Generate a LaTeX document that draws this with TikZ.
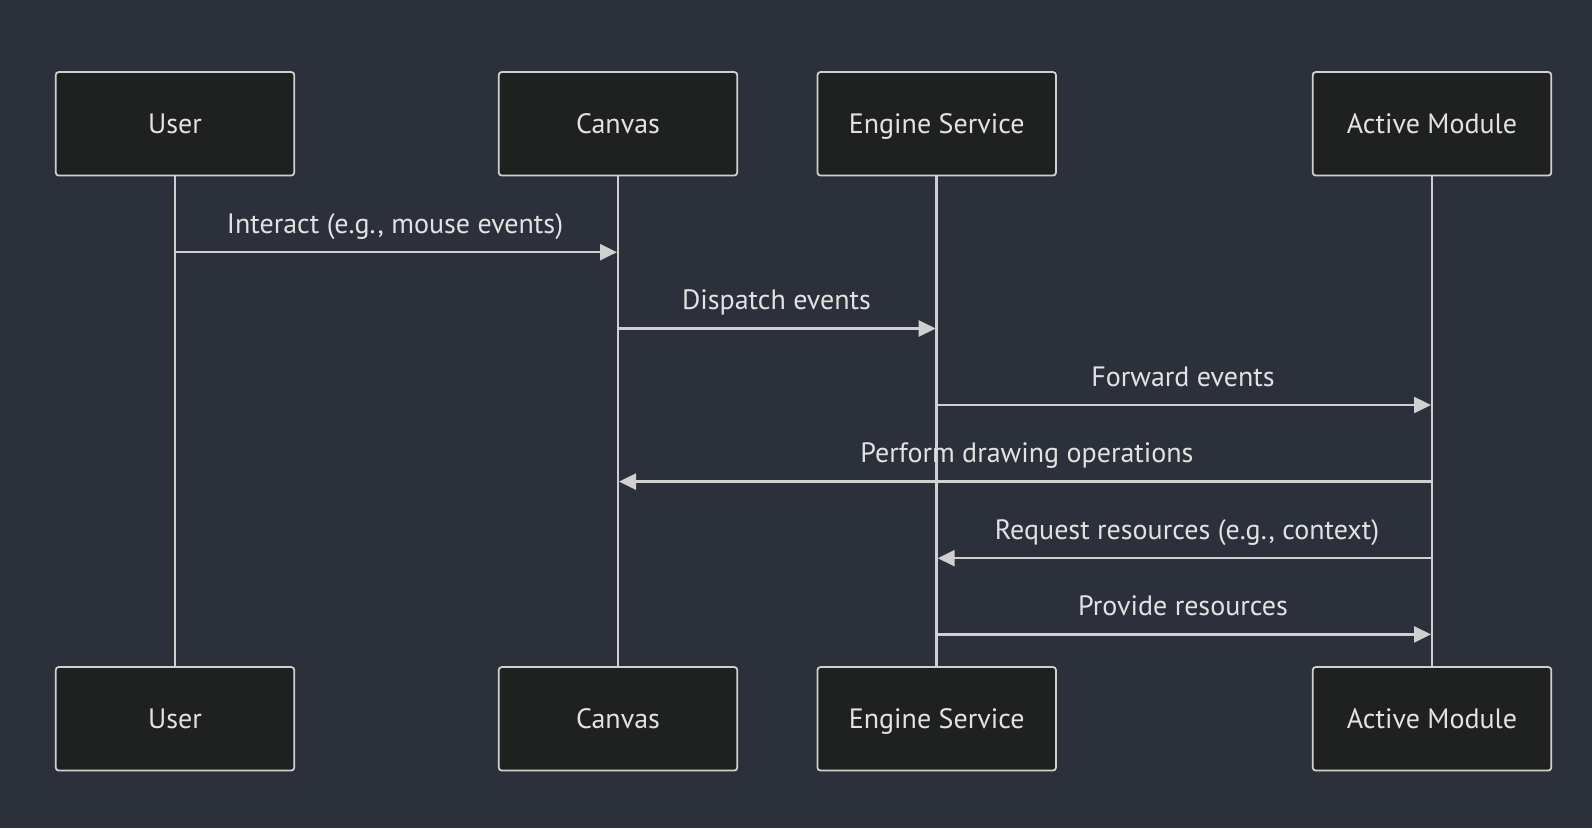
\documentclass[tikz,border=0pt]{standalone}
\usepackage{fontspec}
\setmainfont{PT Sans}
\usetikzlibrary{arrows.meta}
\definecolor{bgc}{HTML}{2C303B}
\definecolor{boxc}{HTML}{1F2020}
\definecolor{linec}{HTML}{D0D0D0}
\definecolor{txtc}{HTML}{E2E2E2}
\tikzset{
  actor/.style={draw=linec, line width=1.8pt, fill=boxc, rounded corners=3pt,
    minimum width=238.5pt, minimum height=103.5pt, inner sep=0pt,
    text height=19.6pt, text depth=0.4pt,
    text=txtc, font=\fontsize{28}{32}\selectfont},
  life/.style={draw=linec, line width=2.6pt},
  msg/.style={draw=linec, line width=2.4pt, -{Triangle[length=17pt,width=16pt]}},
  lbl/.style={text=txtc, font=\fontsize{28}{32}\selectfont, inner sep=0pt,
    text height=19.6pt, text depth=0.4pt}
}
\begin{document}
\begin{tikzpicture}[x=1pt,y=-1pt]
\fill[bgc] (0,0) rectangle (1592,828);
\useasboundingbox (0,0) rectangle (1592,828);
\node[actor] (u1) at (175,123.8) {User};
\node[actor] (c1) at (618,123.8) {Canvas};
\node[actor] (e1) at (936.7,123.8) {Engine Service};
\node[actor] (a1) at (1432,123.8) {Active Module};
\node[actor] (u2) at (175,718.8) {User};
\node[actor] (c2) at (618,718.8) {Canvas};
\node[actor] (e2) at (936.7,718.8) {Engine Service};
\node[actor] (a2) at (1432,718.8) {Active Module};
\draw[life] (u1.south) -- (u2.north);
\draw[life] (c1.south) -- (c2.north);
\draw[life] (e1.south) -- (e2.north);
\draw[life] (a1.south) -- (a2.north);
% messages
\coordinate (m1s) at (175,252.2); \coordinate (m1e) at (617,252.2);
\coordinate (m2s) at (618,328.5); \coordinate (m2e) at (935.7,328.5);
\coordinate (m3s) at (936.7,405); \coordinate (m3e) at (1431,405);
\coordinate (m4s) at (1432,481.6); \coordinate (m4e) at (619,481.6);
\coordinate (m5s) at (1432,558.2); \coordinate (m5e) at (937.7,558.2);
\coordinate (m6s) at (936.7,634.4); \coordinate (m6e) at (1431,634.4);
\draw[msg] (m1s) -- (m1e);
\draw[msg] (m2s) -- (m2e);
\draw[msg] (m3s) -- (m3e);
\draw[msg] (m4s) -- (m4e);
\draw[msg] (m5s) -- (m5e);
\draw[msg] (m6s) -- (m6e);
\node[lbl] (l1) at (395,223.5) {Interact (e.g., mouse events)};
\node[lbl] (l2) at (776.5,300) {Dispatch events};
\node[lbl] (l3) at (1183,376.5) {Forward events};
\node[lbl] (l4) at (1027,452.5) {Perform drawing operations};
\node[lbl] (l5) at (1187,529.5) {Request resources (e.g., context)};
\node[lbl] (l6) at (1183,605.5) {Provide resources};
\end{tikzpicture}
\end{document}
